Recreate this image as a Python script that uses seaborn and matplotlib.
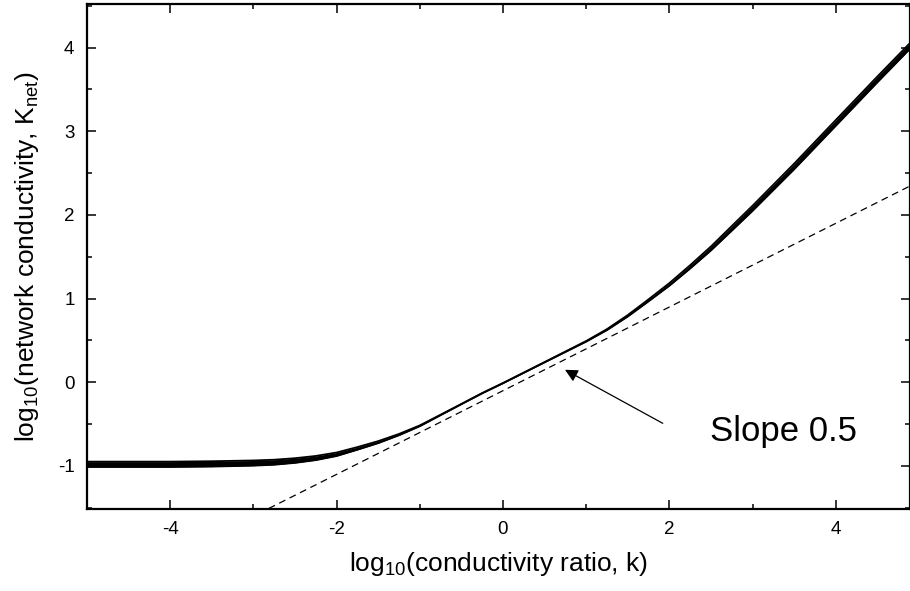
import matplotlib
matplotlib.use("Agg")
import matplotlib.pyplot as plt
import seaborn as sns
import pandas as pd
from matplotlib.ticker import MultipleLocator

# ---- data ----
log_k = [-5, -4.5, -4, -3.5, -3, -2.75, -2.5, -2.25, -2, -1.75, -1.5, -1.25, -1, -0.75, -0.5,
         -0.25, 0, 0.25, 0.5, 0.75, 1, 1.25, 1.5, 1.75, 2, 2.25, 2.5, 2.75, 3, 3.5, 4, 4.5, 5]
knet_center = [-0.98, -0.98, -0.98, -0.975, -0.965, -0.955, -0.935, -0.905, -0.86, -0.79, -0.715,
               -0.625, -0.52, -0.39, -0.26, -0.13, -0.01, 0.115, 0.24, 0.365, 0.49, 0.63, 0.795,
               0.98, 1.17, 1.38, 1.60, 1.84, 2.08, 2.58, 3.10, 3.62, 4.13]
band_half = [0.032, 0.032, 0.032, 0.032, 0.031, 0.03, 0.028, 0.025, 0.021, 0.016, 0.012, 0.008,
             0.005, 0.003, 0.002, 0.002, 0.002, 0.002, 0.002, 0.003, 0.004, 0.006, 0.009, 0.012,
             0.016, 0.02, 0.024, 0.028, 0.031, 0.034, 0.035, 0.035, 0.035]
slope_x = [-5, 5]
slope_y = [-2.6, 2.4]
x_ticks = [-4, -2, 0, 2, 4]
y_ticks = [-1, 0, 1, 2, 3, 4]
annot_text = "Slope 0.5"

sns.set_style("ticks")
plt.rcParams['font.family'] = ['Liberation Sans', 'DejaVu Sans']
plt.rcParams['mathtext.fontset'] = 'custom'
plt.rcParams['mathtext.rm'] = 'Liberation Sans'
plt.rcParams['mathtext.it'] = 'Liberation Sans:italic'
plt.rcParams['axes.unicode_minus'] = False
plt.rcParams['text.color'] = 'black'
plt.rcParams['axes.labelcolor'] = 'black'
plt.rcParams['xtick.color'] = 'black'
plt.rcParams['ytick.color'] = 'black'
plt.rcParams['axes.edgecolor'] = 'black'

df = pd.DataFrame({"x": log_k, "c": knet_center, "h": band_half})
df["upper"] = df["c"] + df["h"]
df["lower"] = df["c"] - df["h"]
dslope = pd.DataFrame({"x": slope_x, "y": slope_y})

fig = plt.figure(figsize=(9.10, 5.91), dpi=100)
ax = fig.add_axes([87 / 910, 1 - 509 / 591, (909.5 - 87) / 910, (509 - 4) / 591])

ax.fill_between(df["x"], df["lower"], df["upper"], color="black", lw=0)
sns.lineplot(data=df, x="x", y="upper", color="black", lw=1.3, ax=ax)
sns.lineplot(data=df, x="x", y="lower", color="black", lw=1.3, ax=ax)
sns.lineplot(data=dslope, x="x", y="y", color="black", lw=0.9, ax=ax,
             linestyle=(0, (5.5, 3.8)))

ax.annotate("", xy=(0.745, 0.15), xytext=(1.92, -0.49),
            arrowprops=dict(arrowstyle="-|>", color="black", lw=0.9,
                            mutation_scale=19, shrinkA=0, shrinkB=0))
ax.text(3.37, -0.59, annot_text, fontsize=25, ha="center", va="center")

ax.set_xlim(-5, 4.886)
ax.set_ylim(-1.514, 4.521)
ax.set_xticks(x_ticks)
ax.set_yticks(y_ticks)
ax.xaxis.set_minor_locator(MultipleLocator(1))
ax.yaxis.set_minor_locator(MultipleLocator(0.5))
ax.tick_params(which="both", direction="in", top=True, right=True, width=1.1,
               labelsize=13.5, pad=9, colors="black")
ax.tick_params(which="major", length=6.5)
ax.tick_params(which="minor", length=3.6)
for s in ax.spines.values():
    s.set_linewidth(1.6)
    s.set_color("black")
    s.set_visible(True)

ax.set_xlabel(r"log$_{\mathrm{10}}$(conductivity ratio, k)", fontsize=19, labelpad=8)
ax.set_ylabel(r"log$_{\mathrm{10}}$(network conductivity, K$_{\mathrm{net}}$)", fontsize=19, labelpad=12)

fig.savefig("out.png", dpi=100)
